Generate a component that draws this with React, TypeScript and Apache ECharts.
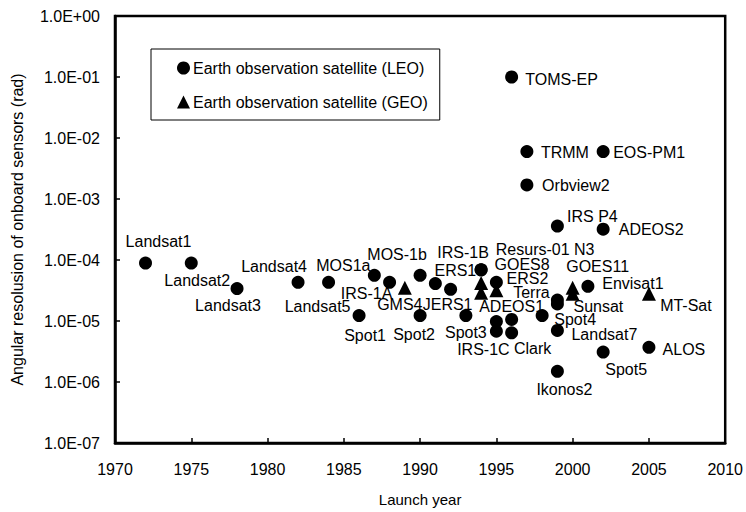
import React, { useEffect, useRef } from "react";
import * as echarts from "echarts";

// LEO (circle) satellites
const leoNames = [
  "Landsat1", "Landsat2", "Landsat3", "Landsat4", "Landsat5", "Spot1", "MOS1a", "IRS-1A",
  "MOS-1b", "Spot2", "ERS1", "JERS1", "Spot3", "IRS-1B", "Resurs-01 N3", "ERS2", "",
  "IRS-1C", "ADEOS1", "Clark", "TOMS-EP", "TRMM", "Orbview2", "Spot4", "IRS P4", "Terra",
  "Sunsat", "Landsat7", "Ikonos2", "Envisat1", "EOS-PM1", "ADEOS2", "Spot5", "ALOS",
];
const leoYears = [
  1972, 1975, 1978, 1982, 1984, 1986, 1987, 1988,
  1990, 1990, 1991, 1992, 1993, 1994, 1994, 1995, 1995,
  1995, 1996, 1996, 1996, 1997, 1997, 1998, 1999, 1999,
  1999, 1999, 1999, 2001, 2002, 2002, 2002, 2005,
];
const leoValues = [
  8.9e-5, 8.9e-5, 3.4e-5, 4.3e-5, 4.3e-5, 1.23e-5, 5.6e-5, 4.3e-5,
  5.6e-5, 1.23e-5, 4.1e-5, 3.3e-5, 1.23e-5, 6.9e-5, 6.9e-5, 4.3e-5, 9.8e-6,
  6.8e-6, 1.06e-5, 6.4e-6, 1.0e-1, 6.0e-3, 1.7e-3, 1.23e-5, 3.6e-4, 2.2e-5,
  1.9e-5, 7.0e-6, 1.5e-6, 3.7e-5, 6.0e-3, 3.2e-4, 3.1e-6, 3.7e-6,
];

// GEO (triangle) satellites
const geoNames = ["GMS4", "GOES8", "", "", "GOES11", "", "MT-Sat"];
const geoYears = [1989, 1994, 1994, 1995, 2000, 2000, 2005];
const geoValues = [3.5e-5, 4.2e-5, 2.9e-5, 3.2e-5, 3.5e-5, 2.8e-5, 2.8e-5];

// label placement (offset of label centre from marker centre, px)
const labelOffsets: Record<string, [number, number]> = {
  Landsat1: [13, -22], Landsat2: [6, 17], Landsat3: [-9, 17], Landsat4: [-24, -16],
  Landsat5: [-11, 24], Spot1: [6, 20], MOS1a: [-31, -10], "IRS-1A": [-23, 11],
  "MOS-1b": [-23, -21], Spot2: [-6, 19], ERS1: [20, -13], JERS1: [-3, 15],
  Spot3: [0, 17], "IRS-1B": [-18, -17], "Resurs-01 N3": [64, -20], ERS2: [31, -4],
  "IRS-1C": [-13, 18], ADEOS1: [0, -13], Clark: [21, 16], "TOMS-EP": [50, 2],
  TRMM: [38, 1], Orbview2: [49, 1], Spot4: [33, 4], "IRS P4": [35, -10],
  Terra: [-26, -8], Sunsat: [41, 3], Landsat7: [47, 4], Ikonos2: [7, 18],
  Envisat1: [45, -3], "EOS-PM1": [46, 1], ADEOS2: [48, 0], Spot5: [23, 17],
  ALOS: [35, 2], GMS4: [-5, 17], GOES8: [41, -18], GOES11: [25, -21], "MT-Sat": [37, 12],
};

const FONT = "'Liberation Sans', Arial, sans-serif";

function buildData(names: string[], years: number[], values: number[]) {
  return names.map((n, i) => {
    const off = labelOffsets[n];
    return {
      name: n,
      value: [years[i], values[i]],
      label: n
        ? {
            show: true,
            formatter: n,
            position: "inside",
            offset: off || [0, 0],
            align: "center",
            verticalAlign: "middle",
            color: "#000",
            fontSize: 16,
            lineHeight: 14,
            fontFamily: FONT,
          }
        : { show: false },
    };
  });
}

function fmtSci(v: number) {
  const e = Math.round(Math.log10(v));
  return "1.0E" + (e < 0 ? "-" : "+") + String(Math.abs(e)).padStart(2, "0");
}

export default function App() {
  const ref = useRef<HTMLDivElement>(null);
  useEffect(() => {
    if (!ref.current) return;
    const chart = echarts.init(ref.current, undefined, { renderer: "svg" });
    chart.setOption({
      animation: false,
      backgroundColor: "#fff",
      textStyle: { fontFamily: FONT },
      grid: {
        left: 115,
        right: 18,
        top: 16,
        bottom: 66,
        show: true,
        borderColor: "#000",
        borderWidth: 2.5,
      },
      legend: {
        left: 151,
        top: 49,
        orient: "vertical",
        padding: [11, 12, 10, 26],
        itemGap: 18,
        itemWidth: 13,
        itemHeight: 13,
        borderColor: "#000",
        borderWidth: 1,
        backgroundColor: "#fff",
        selectedMode: false,
        textStyle: { fontSize: 16, color: "#000", fontFamily: FONT, padding: [0, 0, 0, -2] },
        data: [
          { name: "Earth observation satellite (LEO)", icon: "circle" },
          { name: "Earth observation satellite (GEO)", icon: "triangle" },
        ],
      },
      xAxis: {
        type: "value",
        min: 1970,
        max: 2010,
        interval: 5,
        name: "Launch year",
        nameLocation: "middle",
        nameGap: 49,
        nameTextStyle: { fontSize: 15, color: "#000", fontFamily: FONT },
        axisLine: { show: true, lineStyle: { color: "#000", width: 2.5 } },
        axisTick: { show: true, inside: true, length: 5, lineStyle: { color: "#000", width: 1.5 } },
        axisLabel: {
          fontSize: 16,
          color: "#000",
          margin: 18,
          fontFamily: FONT,
          formatter: (v: number) => String(v),
        },
        splitLine: { show: false },
      },
      yAxis: {
        type: "log",
        logBase: 10,
        min: 1e-7,
        max: 1,
        name: "Angular resolusion of onboard sensors (rad)",
        nameLocation: "middle",
        nameGap: 90,
        nameTextStyle: { fontSize: 16, color: "#000", fontFamily: FONT },
        axisLine: { show: true, lineStyle: { color: "#000", width: 2.5 } },
        axisTick: { show: true, inside: true, length: 5, lineStyle: { color: "#000", width: 1.5 } },
        axisLabel: { fontSize: 16, color: "#000", margin: 15, fontFamily: FONT, formatter: fmtSci },
        splitLine: { show: false },
        minorTick: { show: false },
      },
      series: [
        {
          name: "Earth observation satellite (LEO)",
          type: "scatter",
          symbol: "circle",
          symbolSize: 13,
          z: 3,
          itemStyle: { color: "#000", opacity: 1 },
          data: buildData(leoNames, leoYears, leoValues),
        },
        {
          name: "Earth observation satellite (GEO)",
          type: "scatter",
          symbol: "triangle",
          symbolSize: 14,
          z: 2,
          itemStyle: { color: "#000", opacity: 1 },
          data: buildData(geoNames, geoYears, geoValues),
        },
      ],
    });
    return () => chart.dispose();
  }, []);
  return (
    <div
      ref={ref}
      style={{ position: "fixed", left: 0, top: 0, width: 746, height: 512, background: "#fff" }}
    />
  );
}
